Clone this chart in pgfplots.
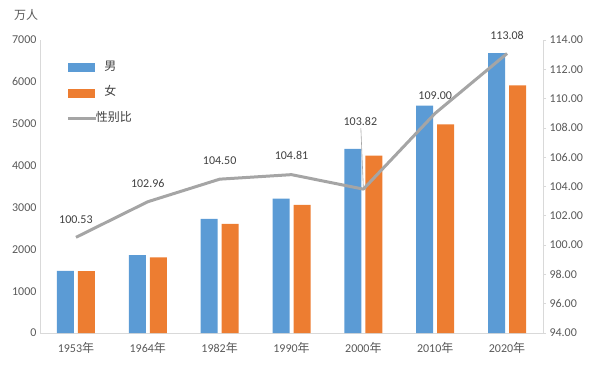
\documentclass[border=0pt]{standalone}
\usepackage{fontspec}
\setmainfont{Carlito}
\newfontfamily\cjk{Noto Sans CJK SC}
\usepackage{pgfplots}
\pgfplotsset{compat=1.18}
\definecolor{cblue}{HTML}{5B9BD5}
\definecolor{corange}{HTML}{ED7D31}
\definecolor{cgray}{HTML}{A5A5A5}
\definecolor{ctext}{HTML}{595959}
\definecolor{clab}{HTML}{404040}
\definecolor{caxis}{HTML}{D9D9D9}
\begin{document}
\begin{tikzpicture}[font=\fontsize{12bp}{14bp}\selectfont]
\pgfplotsset{base/.style={width=503bp, height=293bp, scale only axis,
  xmin=-0.5, xmax=6.5, clip=false,
  /pgf/number format/assume math mode=true,
  tick label style={text=ctext, font=\fontsize{12bp}{14bp}\selectfont},
  axis line style={caxis, line width=0.8bp}}}
\begin{axis}[base, name=ax,
  ymin=0, ymax=7000, ytick={0,1000,...,7000},
  axis y line*=left, axis x line*=bottom,
  major tick length=0pt,
  xtick={0,...,6},
  xticklabels={1953{\cjk 年},1964{\cjk 年},1982{\cjk 年},1990{\cjk 年},2000{\cjk 年},2010{\cjk 年},2020{\cjk 年}},
  xticklabel style={yshift=-5.5bp},
  yticklabel style={/pgf/number format/fixed, /pgf/number format/1000 sep={}},
  ybar=4bp, bar width=17bp]
\addplot[fill=cblue, draw=none] coordinates {(0,1485)(1,1860)(2,2725)(3,3210)(4,4400)(5,5430)(6,6687)};
\addplot[fill=corange, draw=none] coordinates {(0,1477)(1,1807)(2,2608)(3,3063)(4,4238)(5,4982)(6,5914)};
\end{axis}
\begin{axis}[base,
  ymin=94, ymax=114, ytick={94,96,...,114},
  axis y line*=right, axis x line=none,
  major tick length=3bp, tick align=outside, tick style={caxis, line width=0.8bp},
  yticklabel style={/pgf/number format/fixed, /pgf/number format/fixed zerofill, /pgf/number format/precision=2},
  legend style={at={(0.052,0.935)}, anchor=north west, draw=none, fill=none,
    inner sep=0pt, row sep=9.5bp, column sep=-3.5bp,
    nodes={inner sep=2bp, text height=9bp, text depth=3bp, text=clab, font=\fontsize{12bp}{14bp}\selectfont\cjk}},
  legend cell align=left]
\addlegendimage{legend image code/.code={\fill[cblue] (0bp,-4bp) rectangle (26.5bp,4bp);}}
\addlegendentry{男}
\addlegendimage{legend image code/.code={\fill[corange] (0bp,-4bp) rectangle (26.5bp,4bp);}}
\addlegendentry{女}
\addplot[cgray, line width=3bp, line join=round, mark=none,
  legend image code/.code={\draw[cgray, line width=3bp] (0bp,0bp) -- (28bp,0bp);}]
  coordinates {(0,100.53)(1,102.96)(2,104.50)(3,104.81)(4,103.82)(5,109.00)(6,113.08)};
\addlegendentry[xshift=-8.5bp]{性别比}
\begin{scope}[every node/.style={text=clab, font=\fontsize{12bp}{14bp}\selectfont}]
\node[yshift=18bp] at (axis cs:0,100.53) {100.53};
\node[yshift=18bp] at (axis cs:1,102.96) {102.96};
\node[yshift=19bp] at (axis cs:2,104.50) {104.50};
\node[yshift=19bp] at (axis cs:3,104.81) {104.81};
\node[yshift=68bp, xshift=-3bp] at (axis cs:4,103.82) {103.82};
\node[yshift=18bp] at (axis cs:5,109.00) {109.00};
\node[yshift=18bp] at (axis cs:6,113.08) {113.08};
\end{scope}
\draw[cgray, line width=0.6bp] ([yshift=1bp]axis cs:4,103.82) -- ([xshift=-2.5bp, yshift=61bp]axis cs:4,103.82);
\end{axis}
\node[text=ctext, font=\fontsize{12bp}{14bp}\selectfont\cjk] at ([xshift=-14bp,yshift=25bp]ax.north west) {万人};
\pgfresetboundingbox
\path ([xshift=-40bp,yshift=-36bp]ax.south west) rectangle ([xshift=47bp,yshift=40bp]ax.north east);
\end{tikzpicture}
\end{document}
